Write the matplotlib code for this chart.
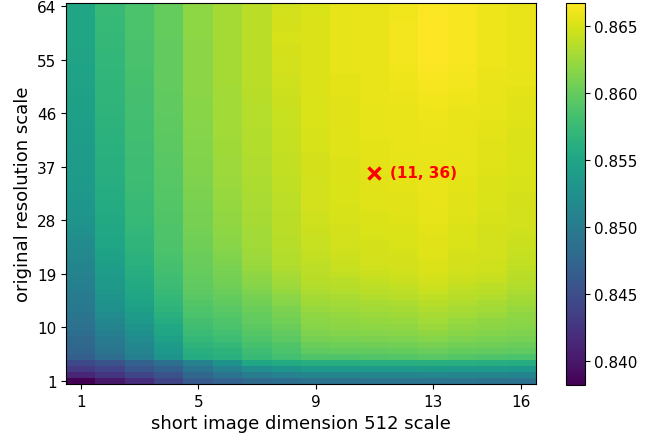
import numpy as np
import matplotlib
matplotlib.use("Agg")
import matplotlib.pyplot as plt

# x: short image dimension 512 scale (1..16), y: original resolution scale (1..64)
x_scales = list(range(1, 17))
y_scales = list(range(1, 65))
x_ticks = [1, 5, 9, 13, 16]
y_ticks = [1, 10, 19, 28, 37, 46, 55, 64]
best_point = (11, 36)

# accuracy per x-scale column, listed from y-scale 1 to 64
col01 = [0.8382, 0.8413, 0.8430, 0.8445, 0.8468, 0.8475, 0.8478, 0.8481, 0.8485, 0.8488,
         0.8491, 0.8494, 0.8497, 0.8499, 0.8501, 0.8503, 0.8505, 0.8507, 0.8509, 0.8511,
         0.8513, 0.8516, 0.8518, 0.8520, 0.8523, 0.8525, 0.8527, 0.8530, 0.8531, 0.8532,
         0.8533, 0.8534, 0.8535, 0.8536, 0.8537, 0.8538, 0.8539, 0.8539, 0.8540, 0.8540,
         0.8541, 0.8541, 0.8542, 0.8542, 0.8543, 0.8543, 0.8544, 0.8544, 0.8545, 0.8545,
         0.8546, 0.8546, 0.8547, 0.8547, 0.8548, 0.8548, 0.8549, 0.8549, 0.8550, 0.8550,
         0.8550, 0.8551, 0.8551, 0.8551]
col02 = [0.8402, 0.8425, 0.8439, 0.8455, 0.8485, 0.8492, 0.8496, 0.8500, 0.8505, 0.8510,
         0.8515, 0.8520, 0.8525, 0.8528, 0.8530, 0.8533, 0.8535, 0.8537, 0.8540, 0.8542,
         0.8544, 0.8545, 0.8547, 0.8549, 0.8550, 0.8552, 0.8553, 0.8555, 0.8556, 0.8557,
         0.8557, 0.8558, 0.8559, 0.8560, 0.8560, 0.8561, 0.8562, 0.8562, 0.8563, 0.8563,
         0.8564, 0.8564, 0.8565, 0.8566, 0.8566, 0.8567, 0.8567, 0.8568, 0.8568, 0.8569,
         0.8569, 0.8570, 0.8570, 0.8571, 0.8571, 0.8571, 0.8572, 0.8572, 0.8572, 0.8573,
         0.8573, 0.8573, 0.8574, 0.8574]
col03 = [0.8418, 0.8442, 0.8458, 0.8470, 0.8505, 0.8510, 0.8515, 0.8520, 0.8525, 0.8530,
         0.8535, 0.8540, 0.8544, 0.8547, 0.8550, 0.8552, 0.8555, 0.8557, 0.8560, 0.8562,
         0.8564, 0.8565, 0.8567, 0.8568, 0.8570, 0.8571, 0.8572, 0.8573, 0.8574, 0.8575,
         0.8575, 0.8576, 0.8577, 0.8577, 0.8578, 0.8578, 0.8579, 0.8579, 0.8580, 0.8580,
         0.8580, 0.8581, 0.8581, 0.8581, 0.8582, 0.8582, 0.8582, 0.8583, 0.8583, 0.8583,
         0.8584, 0.8584, 0.8584, 0.8585, 0.8585, 0.8585, 0.8585, 0.8585, 0.8586, 0.8586,
         0.8586, 0.8586, 0.8586, 0.8586]
col04 = [0.8440, 0.8455, 0.8470, 0.8486, 0.8530, 0.8534, 0.8540, 0.8545, 0.8549, 0.8553,
         0.8558, 0.8563, 0.8567, 0.8570, 0.8572, 0.8575, 0.8577, 0.8579, 0.8581, 0.8583,
         0.8584, 0.8585, 0.8586, 0.8587, 0.8588, 0.8588, 0.8589, 0.8590, 0.8590, 0.8591,
         0.8591, 0.8592, 0.8592, 0.8593, 0.8593, 0.8593, 0.8594, 0.8594, 0.8594, 0.8595,
         0.8595, 0.8595, 0.8596, 0.8596, 0.8596, 0.8597, 0.8597, 0.8597, 0.8597, 0.8598,
         0.8598, 0.8598, 0.8598, 0.8599, 0.8599, 0.8599, 0.8599, 0.8599, 0.8600, 0.8600,
         0.8600, 0.8600, 0.8600, 0.8600]
col05 = [0.8463, 0.8478, 0.8492, 0.8507, 0.8558, 0.8562, 0.8567, 0.8572, 0.8576, 0.8580,
         0.8583, 0.8586, 0.8589, 0.8591, 0.8594, 0.8596, 0.8597, 0.8598, 0.8600, 0.8601,
         0.8602, 0.8603, 0.8604, 0.8605, 0.8606, 0.8607, 0.8608, 0.8609, 0.8609, 0.8610,
         0.8610, 0.8611, 0.8611, 0.8612, 0.8612, 0.8613, 0.8613, 0.8613, 0.8614, 0.8614,
         0.8614, 0.8615, 0.8615, 0.8615, 0.8616, 0.8616, 0.8616, 0.8616, 0.8617, 0.8617,
         0.8617, 0.8617, 0.8618, 0.8618, 0.8618, 0.8618, 0.8618, 0.8618, 0.8619, 0.8619,
         0.8619, 0.8619, 0.8619, 0.8619]
col06 = [0.8472, 0.8490, 0.8507, 0.8528, 0.8563, 0.8566, 0.8572, 0.8578, 0.8582, 0.8586,
         0.8589, 0.8592, 0.8594, 0.8597, 0.8600, 0.8603, 0.8605, 0.8607, 0.8608, 0.8610,
         0.8612, 0.8613, 0.8615, 0.8616, 0.8618, 0.8619, 0.8620, 0.8621, 0.8621, 0.8622,
         0.8622, 0.8623, 0.8623, 0.8624, 0.8624, 0.8625, 0.8625, 0.8625, 0.8626, 0.8626,
         0.8626, 0.8627, 0.8627, 0.8627, 0.8628, 0.8628, 0.8628, 0.8628, 0.8628, 0.8628,
         0.8629, 0.8629, 0.8629, 0.8629, 0.8629, 0.8629, 0.8629, 0.8629, 0.8629, 0.8629,
         0.8629, 0.8629, 0.8629, 0.8629]
col07 = [0.8480, 0.8502, 0.8522, 0.8550, 0.8575, 0.8579, 0.8584, 0.8588, 0.8592, 0.8595,
         0.8598, 0.8600, 0.8603, 0.8606, 0.8609, 0.8612, 0.8615, 0.8618, 0.8620, 0.8623,
         0.8624, 0.8625, 0.8626, 0.8627, 0.8628, 0.8628, 0.8629, 0.8630, 0.8630, 0.8631,
         0.8631, 0.8631, 0.8632, 0.8632, 0.8632, 0.8633, 0.8633, 0.8633, 0.8634, 0.8634,
         0.8634, 0.8634, 0.8634, 0.8635, 0.8635, 0.8635, 0.8635, 0.8636, 0.8636, 0.8636,
         0.8637, 0.8637, 0.8637, 0.8638, 0.8638, 0.8638, 0.8638, 0.8638, 0.8638, 0.8638,
         0.8638, 0.8638, 0.8638, 0.8638]
col08 = [0.8485, 0.8508, 0.8530, 0.8556, 0.8582, 0.8586, 0.8590, 0.8595, 0.8599, 0.8603,
         0.8606, 0.8608, 0.8611, 0.8615, 0.8618, 0.8622, 0.8625, 0.8628, 0.8630, 0.8633,
         0.8634, 0.8634, 0.8635, 0.8636, 0.8636, 0.8637, 0.8637, 0.8638, 0.8638, 0.8639,
         0.8639, 0.8639, 0.8640, 0.8640, 0.8640, 0.8641, 0.8641, 0.8641, 0.8641, 0.8642,
         0.8642, 0.8642, 0.8642, 0.8643, 0.8643, 0.8643, 0.8644, 0.8644, 0.8645, 0.8645,
         0.8646, 0.8646, 0.8647, 0.8647, 0.8648, 0.8649, 0.8649, 0.8650, 0.8650, 0.8649,
         0.8649, 0.8648, 0.8647, 0.8646]
col09 = [0.8489, 0.8512, 0.8535, 0.8560, 0.8588, 0.8597, 0.8603, 0.8608, 0.8612, 0.8615,
         0.8618, 0.8620, 0.8623, 0.8626, 0.8629, 0.8632, 0.8634, 0.8636, 0.8637, 0.8639,
         0.8640, 0.8641, 0.8642, 0.8643, 0.8643, 0.8644, 0.8645, 0.8646, 0.8646, 0.8647,
         0.8647, 0.8647, 0.8648, 0.8648, 0.8648, 0.8649, 0.8649, 0.8649, 0.8649, 0.8650,
         0.8650, 0.8650, 0.8650, 0.8651, 0.8651, 0.8651, 0.8651, 0.8651, 0.8652, 0.8652,
         0.8652, 0.8652, 0.8652, 0.8652, 0.8652, 0.8652, 0.8652, 0.8652, 0.8652, 0.8652,
         0.8652, 0.8651, 0.8651, 0.8651]
col10 = [0.8489, 0.8512, 0.8535, 0.8560, 0.8589, 0.8598, 0.8604, 0.8610, 0.8614, 0.8617,
         0.8620, 0.8622, 0.8625, 0.8628, 0.8631, 0.8634, 0.8636, 0.8638, 0.8641, 0.8643,
         0.8644, 0.8645, 0.8646, 0.8647, 0.8648, 0.8648, 0.8649, 0.8650, 0.8650, 0.8650,
         0.8651, 0.8651, 0.8651, 0.8651, 0.8652, 0.8652, 0.8652, 0.8652, 0.8653, 0.8653,
         0.8653, 0.8653, 0.8653, 0.8654, 0.8654, 0.8654, 0.8654, 0.8654, 0.8655, 0.8655,
         0.8655, 0.8655, 0.8656, 0.8656, 0.8656, 0.8656, 0.8656, 0.8656, 0.8656, 0.8656,
         0.8656, 0.8656, 0.8656, 0.8656]
col11 = [0.8490, 0.8513, 0.8536, 0.8561, 0.8590, 0.8599, 0.8605, 0.8611, 0.8615, 0.8619,
         0.8622, 0.8624, 0.8627, 0.8630, 0.8634, 0.8637, 0.8639, 0.8641, 0.8644, 0.8646,
         0.8647, 0.8648, 0.8649, 0.8649, 0.8650, 0.8651, 0.8651, 0.8652, 0.8652, 0.8653,
         0.8653, 0.8653, 0.8654, 0.8654, 0.8654, 0.8655, 0.8655, 0.8655, 0.8655, 0.8655,
         0.8655, 0.8656, 0.8656, 0.8656, 0.8656, 0.8656, 0.8656, 0.8657, 0.8657, 0.8657,
         0.8657, 0.8657, 0.8658, 0.8658, 0.8658, 0.8658, 0.8658, 0.8658, 0.8658, 0.8658,
         0.8657, 0.8657, 0.8657, 0.8657]
col12 = [0.8490, 0.8513, 0.8536, 0.8561, 0.8591, 0.8600, 0.8606, 0.8612, 0.8616, 0.8620,
         0.8623, 0.8626, 0.8629, 0.8632, 0.8636, 0.8639, 0.8641, 0.8644, 0.8646, 0.8648,
         0.8649, 0.8649, 0.8650, 0.8651, 0.8651, 0.8652, 0.8652, 0.8653, 0.8653, 0.8654,
         0.8654, 0.8654, 0.8655, 0.8655, 0.8655, 0.8656, 0.8656, 0.8656, 0.8656, 0.8657,
         0.8657, 0.8657, 0.8657, 0.8657, 0.8658, 0.8658, 0.8658, 0.8659, 0.8659, 0.8660,
         0.8660, 0.8660, 0.8661, 0.8661, 0.8662, 0.8662, 0.8662, 0.8662, 0.8662, 0.8662,
         0.8662, 0.8661, 0.8661, 0.8661]
col13 = [0.8491, 0.8514, 0.8537, 0.8562, 0.8594, 0.8602, 0.8609, 0.8615, 0.8620, 0.8624,
         0.8627, 0.8630, 0.8633, 0.8636, 0.8640, 0.8643, 0.8645, 0.8648, 0.8650, 0.8652,
         0.8652, 0.8653, 0.8653, 0.8654, 0.8654, 0.8655, 0.8655, 0.8656, 0.8656, 0.8656,
         0.8657, 0.8657, 0.8657, 0.8657, 0.8657, 0.8658, 0.8658, 0.8658, 0.8658, 0.8658,
         0.8659, 0.8659, 0.8659, 0.8659, 0.8660, 0.8660, 0.8661, 0.8661, 0.8662, 0.8663,
         0.8663, 0.8664, 0.8665, 0.8665, 0.8666, 0.8666, 0.8666, 0.8667, 0.8667, 0.8667,
         0.8666, 0.8666, 0.8665, 0.8665]
col14 = [0.8490, 0.8513, 0.8536, 0.8561, 0.8591, 0.8600, 0.8606, 0.8612, 0.8616, 0.8620,
         0.8623, 0.8627, 0.8630, 0.8633, 0.8636, 0.8639, 0.8641, 0.8644, 0.8646, 0.8648,
         0.8649, 0.8649, 0.8650, 0.8651, 0.8651, 0.8652, 0.8652, 0.8653, 0.8653, 0.8654,
         0.8654, 0.8654, 0.8655, 0.8655, 0.8655, 0.8656, 0.8656, 0.8656, 0.8656, 0.8657,
         0.8657, 0.8657, 0.8657, 0.8658, 0.8658, 0.8658, 0.8659, 0.8660, 0.8660, 0.8661,
         0.8662, 0.8662, 0.8663, 0.8663, 0.8664, 0.8664, 0.8664, 0.8664, 0.8664, 0.8664,
         0.8664, 0.8664, 0.8664, 0.8664]
col15 = [0.8489, 0.8512, 0.8535, 0.8560, 0.8589, 0.8599, 0.8605, 0.8610, 0.8614, 0.8617,
         0.8620, 0.8624, 0.8627, 0.8630, 0.8634, 0.8637, 0.8639, 0.8642, 0.8644, 0.8646,
         0.8646, 0.8647, 0.8647, 0.8648, 0.8648, 0.8649, 0.8649, 0.8650, 0.8650, 0.8651,
         0.8651, 0.8651, 0.8652, 0.8652, 0.8652, 0.8653, 0.8653, 0.8653, 0.8654, 0.8654,
         0.8654, 0.8655, 0.8655, 0.8655, 0.8656, 0.8656, 0.8656, 0.8657, 0.8657, 0.8658,
         0.8658, 0.8659, 0.8659, 0.8660, 0.8660, 0.8660, 0.8660, 0.8660, 0.8660, 0.8660,
         0.8660, 0.8660, 0.8660, 0.8660]
col16 = [0.8488, 0.8511, 0.8534, 0.8559, 0.8586, 0.8597, 0.8603, 0.8608, 0.8612, 0.8615,
         0.8618, 0.8620, 0.8623, 0.8626, 0.8629, 0.8632, 0.8634, 0.8636, 0.8638, 0.8640,
         0.8641, 0.8642, 0.8643, 0.8644, 0.8645, 0.8646, 0.8647, 0.8648, 0.8648, 0.8649,
         0.8649, 0.8649, 0.8650, 0.8650, 0.8650, 0.8651, 0.8651, 0.8651, 0.8651, 0.8652,
         0.8652, 0.8652, 0.8652, 0.8653, 0.8653, 0.8653, 0.8654, 0.8654, 0.8655, 0.8655,
         0.8656, 0.8656, 0.8657, 0.8657, 0.8658, 0.8658, 0.8658, 0.8658, 0.8658, 0.8658,
         0.8658, 0.8658, 0.8658, 0.8658]

columns = [col01, col02, col03, col04, col05, col06, col07, col08,
           col09, col10, col11, col12, col13, col14, col15, col16]
grid = np.array(columns).T  # shape (64 y-scales, 16 x-scales)

fig = plt.figure(figsize=(6.54, 4.39), dpi=100)
ax = fig.add_axes([0.1014, 0.123, 0.7176, 0.868])
cax = fig.add_axes([0.8654, 0.121, 0.0285, 0.870])

im = ax.imshow(grid, origin="lower", aspect="auto", cmap="viridis",
               interpolation="nearest",
               extent=(x_scales[0] - 0.5, x_scales[-1] + 0.5,
                       y_scales[0] - 0.5, y_scales[-1] + 0.5))

ax.set_xticks(x_ticks)
ax.set_yticks(y_ticks)
ax.tick_params(labelsize=11)
ax.set_xlabel("short image dimension 512 scale", fontsize=13)
ax.set_ylabel("original resolution scale", fontsize=13)

ax.plot(best_point[0], best_point[1], marker="x", color="red",
        markersize=8, markeredgewidth=2.5, linestyle="none")
ax.annotate(f"({best_point[0]}, {best_point[1]})", xy=best_point,
            xytext=(11, 0), textcoords="offset points",
            color="red", fontweight="bold", fontsize=11,
            ha="left", va="center")

cb = fig.colorbar(im, cax=cax)
cb.set_ticks([0.840, 0.845, 0.850, 0.855, 0.860, 0.865])
cb.ax.tick_params(labelsize=11)

fig.savefig("out.png", dpi=100)
